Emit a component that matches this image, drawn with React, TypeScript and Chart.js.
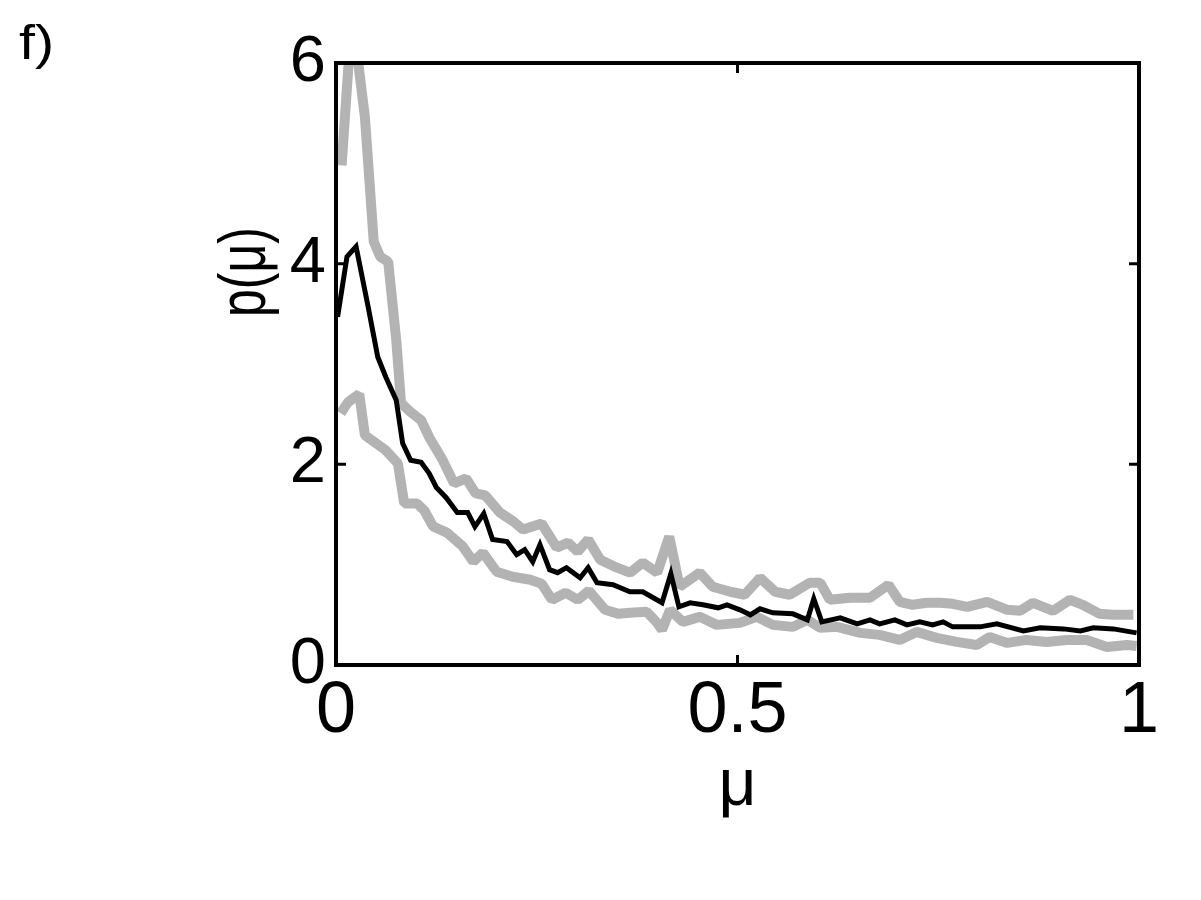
import React, { useEffect, useRef } from "react";
import { Chart, registerables } from "chart.js";

Chart.register(...registerables);

// ---- data ----
const muMean = [0.002, 0.0137, 0.025, 0.040, 0.052, 0.062, 0.075, 0.083, 0.093, 0.106, 0.116, 0.125, 0.137, 0.151, 0.164, 0.173, 0.184, 0.195, 0.213, 0.225, 0.235, 0.245, 0.254, 0.266, 0.276, 0.287, 0.304, 0.314, 0.325, 0.345, 0.366, 0.382, 0.406, 0.417, 0.427, 0.441, 0.457, 0.476, 0.487, 0.503, 0.516, 0.528, 0.544, 0.569, 0.587, 0.595, 0.605, 0.628, 0.649, 0.665, 0.677, 0.696, 0.711, 0.727, 0.743, 0.756, 0.768, 0.802, 0.823, 0.856, 0.877, 0.906, 0.927, 0.943, 0.968, 0.997];
const pMean = [3.47, 4.07, 4.17, 3.57, 3.07, 2.87, 2.64, 2.21, 2.04, 2.02, 1.91, 1.77, 1.67, 1.52, 1.52, 1.38, 1.51, 1.25, 1.23, 1.10, 1.15, 1.03, 1.20, 0.95, 0.92, 0.97, 0.87, 0.97, 0.82, 0.80, 0.73, 0.73, 0.62, 0.91, 0.58, 0.62, 0.60, 0.57, 0.60, 0.55, 0.50, 0.56, 0.52, 0.51, 0.45, 0.66, 0.43, 0.47, 0.41, 0.45, 0.41, 0.45, 0.40, 0.43, 0.40, 0.43, 0.38, 0.38, 0.41, 0.34, 0.37, 0.36, 0.34, 0.37, 0.36, 0.32];

const muUpper = [0.007, 0.020, 0.036, 0.047, 0.055, 0.065, 0.075, 0.081, 0.093, 0.106, 0.116, 0.133, 0.147, 0.162, 0.174, 0.186, 0.204, 0.221, 0.233, 0.256, 0.275, 0.289, 0.301, 0.314, 0.329, 0.350, 0.366, 0.382, 0.400, 0.415, 0.428, 0.453, 0.469, 0.491, 0.509, 0.528, 0.547, 0.565, 0.590, 0.603, 0.615, 0.640, 0.665, 0.688, 0.702, 0.718, 0.736, 0.752, 0.768, 0.786, 0.811, 0.836, 0.852, 0.868, 0.893, 0.914, 0.930, 0.951, 0.968, 0.993];
const pUpper = [4.98, 6.5, 5.46, 4.22, 4.07, 4.02, 3.24, 2.61, 2.52, 2.44, 2.27, 2.04, 1.81, 1.86, 1.71, 1.69, 1.52, 1.43, 1.35, 1.41, 1.17, 1.22, 1.13, 1.25, 1.05, 0.97, 0.92, 1.02, 0.92, 1.28, 0.78, 0.92, 0.78, 0.73, 0.70, 0.87, 0.73, 0.70, 0.82, 0.82, 0.65, 0.67, 0.67, 0.80, 0.63, 0.60, 0.62, 0.62, 0.61, 0.58, 0.63, 0.55, 0.54, 0.62, 0.54, 0.65, 0.60, 0.51, 0.50, 0.50];

const muLower = [0.006, 0.015, 0.029, 0.036, 0.062, 0.077, 0.085, 0.101, 0.110, 0.121, 0.138, 0.158, 0.171, 0.183, 0.200, 0.220, 0.242, 0.256, 0.269, 0.286, 0.301, 0.315, 0.335, 0.352, 0.366, 0.387, 0.400, 0.406, 0.416, 0.432, 0.453, 0.474, 0.503, 0.524, 0.544, 0.569, 0.587, 0.603, 0.624, 0.653, 0.677, 0.702, 0.723, 0.748, 0.773, 0.798, 0.814, 0.836, 0.860, 0.885, 0.910, 0.935, 0.960, 0.985, 0.997];
const pLower = [2.51, 2.62, 2.70, 2.29, 2.14, 2.01, 1.61, 1.61, 1.54, 1.38, 1.32, 1.18, 1.03, 1.12, 0.93, 0.88, 0.85, 0.81, 0.65, 0.72, 0.65, 0.74, 0.55, 0.51, 0.52, 0.53, 0.42, 0.35, 0.55, 0.43, 0.48, 0.40, 0.42, 0.48, 0.40, 0.38, 0.45, 0.37, 0.38, 0.32, 0.30, 0.25, 0.33, 0.27, 0.23, 0.20, 0.28, 0.22, 0.25, 0.23, 0.25, 0.25, 0.18, 0.20, 0.19];

const xTicks = [0, 0.5, 1];
const yTicks = [0, 2, 4, 6];
const panelLabel = "f)";
const xTitle = "μ";
const yTitle = "p(μ)";

const FONT = '"Liberation Sans", Arial, Helvetica, sans-serif';
const GRAY = "#b3b3b3";

const toPoints = (xs: number[], ys: number[]) => xs.map((x, i) => ({ x, y: ys[i] }));

const framePlugin = {
  id: "frameAndText",
  afterDatasetsDraw(chart: any) {
    const { ctx, chartArea: a, scales } = chart;
    ctx.save();
    ctx.strokeStyle = "#000";
    ctx.lineWidth = 3;
    ctx.beginPath();
    const tl = 10;
    for (const v of xTicks) {
      const px = scales.x.getPixelForValue(v);
      ctx.moveTo(px, a.bottom);
      ctx.lineTo(px, a.bottom - tl);
      ctx.moveTo(px, a.top);
      ctx.lineTo(px, a.top + tl);
    }
    for (const v of yTicks) {
      const py = scales.y.getPixelForValue(v);
      ctx.moveTo(a.left, py);
      ctx.lineTo(a.left + tl, py);
      ctx.moveTo(a.right, py);
      ctx.lineTo(a.right - tl, py);
    }
    ctx.stroke();
    ctx.lineWidth = 4;
    ctx.strokeRect(a.left, a.top, a.right - a.left, a.bottom - a.top);
    ctx.restore();
  },
  afterDraw(chart: any) {
    const { ctx } = chart;
    // panel label
    ctx.save();
    ctx.fillStyle = "#000";
    ctx.translate(11, 51);
    ctx.scale(1.2, 1);
    ctx.font = `48px ${FONT}`;
    ctx.textAlign = "left";
    ctx.textBaseline = "alphabetic";
    ctx.fillText(panelLabel, 0, 0);
    ctx.restore();
    // y-axis title
    ctx.save();
    ctx.fillStyle = "#000";
    ctx.translate(238, 264);
    ctx.scale(1.35, 1);
    ctx.rotate(-Math.PI / 2);
    ctx.font = `50px ${FONT}`;
    ctx.textAlign = "center";
    ctx.textBaseline = "middle";
    ctx.fillText(yTitle, 0, 0);
    ctx.restore();
  },
};

export default function App() {
  const ref = useRef<HTMLCanvasElement | null>(null);

  useEffect(() => {
    if (!ref.current) return;
    const chart = new Chart(ref.current, {
      type: "line",
      data: {
        datasets: [
          {
            label: "mean",
            data: toPoints(muMean, pMean),
            borderColor: "#000",
            borderWidth: 5,
            pointRadius: 0,
            tension: 0,
            clip: 0,
          },
          {
            label: "upper",
            data: toPoints(muUpper, pUpper),
            borderColor: GRAY,
            borderWidth: 10,
            borderJoinStyle: "bevel",
            pointRadius: 0,
            tension: 0,
            clip: 0,
          },
          {
            label: "lower",
            data: toPoints(muLower, pLower),
            borderColor: GRAY,
            borderWidth: 10,
            borderJoinStyle: "bevel",
            pointRadius: 0,
            tension: 0,
            clip: 0,
          },
        ],
      } as any,
      options: {
        animation: false,
        responsive: false,
        layout: { padding: { left: 0, top: 55, right: 54, bottom: 0 } },
        plugins: {
          legend: { display: false },
          tooltip: { enabled: false },
          title: { display: false },
        },
        scales: {
          x: {
            type: "linear",
            min: 0,
            max: 1,
            afterBuildTicks: (s: any) => {
              s.ticks = xTicks.map((v) => ({ value: v }));
            },
            afterFit: (s: any) => {
              s.height = 227;
            },
            grid: { display: false, drawTicks: false },
            border: { display: false },
            ticks: {
              color: "#000",
              padding: 4,
              maxRotation: 0,
              font: { family: FONT, size: 72, lineHeight: 1.2 },
              callback: (v: any) => String(v),
            },
            title: {
              display: true,
              text: xTitle,
              color: "#000",
              font: { family: FONT, size: 66, lineHeight: 1.2 },
              padding: { top: 0, bottom: 66 },
            },
          },
          y: {
            type: "linear",
            min: 0,
            max: 6,
            afterBuildTicks: (s: any) => {
              s.ticks = yTicks.map((v) => ({ value: v }));
            },
            afterFit: (s: any) => {
              s.width = 328;
            },
            grid: { display: false, drawTicks: false },
            border: { display: false },
            ticks: {
              color: "#000",
              padding: 10,
              font: { family: FONT, size: 65, lineHeight: 1.2 },
              callback: (v: any) => String(v),
            },
          },
        },
      } as any,
      plugins: [framePlugin],
    });
    return () => chart.destroy();
  }, []);

  return (
    <div style={{ width: 1185, height: 884 }}>
      <canvas ref={ref} width={1185} height={884} style={{ display: "block", width: 1185, height: 884 }} />
    </div>
  );
}
